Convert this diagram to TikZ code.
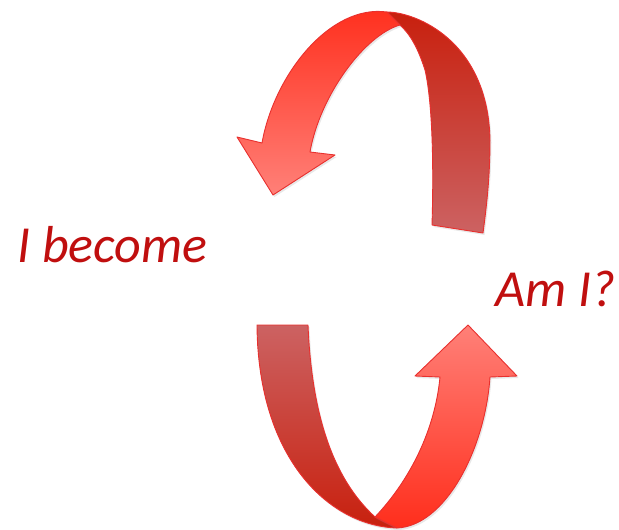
\documentclass[tikz,border=0pt]{standalone}
\usepackage{fontspec}
\setmainfont{Carlito}
\usetikzlibrary{shadows}
\definecolor{wordred}{HTML}{C00F0F}
\definecolor{bandedge}{HTML}{E8302E}
\definecolor{brightred}{HTML}{FF2E1C}
\definecolor{palered}{HTML}{FF8078}
\definecolor{darkred}{HTML}{C8200E}
\definecolor{dustyred}{HTML}{CC6262}

\begin{document}
\begin{tikzpicture}[x=1pt, y=-1pt,
		band/.style={draw=bandedge, line width=0.9pt, line join=round,
			drop shadow={shadow xshift=1.5pt, shadow yshift=-2pt, opacity=0.18}},
		word/.style={font=\itshape\fontsize{52}{52}\selectfont, text=wordred, inner sep=0pt}]
				\useasboundingbox (0,0) rectangle (619,530);
				
				% upper arrow, back band then front band with head
				\path [band, top color=darkred, bottom color=dustyred]
					(387,12) .. controls (415,12) and (488,40) .. (490,140)
					.. controls (490,180) and (486,210) .. (483,233)
					-- (432,225)
					.. controls (434,160) and (432,100) .. (425,70)
					.. controls (418,48) and (410,34) .. (400,25) -- cycle;
				\path [band, top color=brightred, bottom color=palered]
					(387,12) .. controls (330,4) and (274,75) .. (262,143)
					-- (237,137) -- (273,195) -- (335,155) -- (310,152)
					.. controls (320,95) and (365,35) .. (400,25) -- cycle;
				
				% lower arrow, back band then front band with head
				\path [band, top color=dustyred, bottom color=darkred]
					(257,325) -- (308,325)
					.. controls (312,420) and (335,480) .. (375,517)
					-- (397,528)
					.. controls (330,526) and (258,460) .. cycle;
				\path [band, bottom color=brightred, top color=palered]
					(375,517) .. controls (410,480) and (435,430) .. (440,377)
					-- (415,376) -- (468,325) -- (517,376) -- (490,377)
					.. controls (485,450) and (445,526) .. (397,528) -- cycle;
				
				\node [word, anchor=base west] (become) at (17,262) {I become};
				\node [word, anchor=base west] (ami) at (495,306) {Am I?};
			\end{tikzpicture}
\end{document}
